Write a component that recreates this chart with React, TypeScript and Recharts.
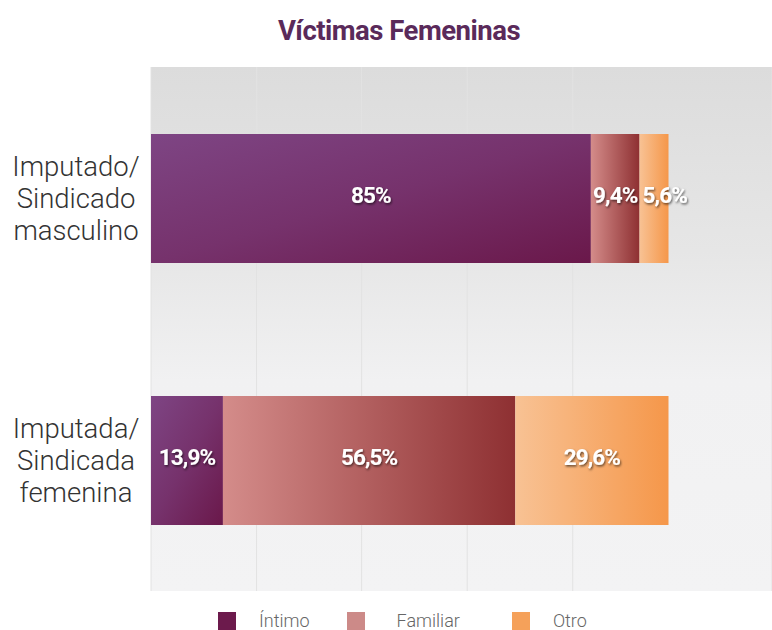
import React from "react";
import {
  Bar,
  BarChart,
  CartesianGrid,
  LabelList,
  Legend,
  XAxis,
  YAxis,
} from "recharts";

const categories = ["Imputado/\nSindicado\nmasculino", "Imputada/\nSindicada\nfemenina"];
const intimo = [85, 13.9];
const familiar = [9.4, 56.5];
const otro = [5.6, 29.6];
const gridTicks = [0, 20.4, 40.7, 61.1, 81.5];

const SERIES = [
  { key: "intimo", name: "Íntimo", fill: "url(#gIntimo)", swatch: "#6c1a4c" },
  { key: "familiar", name: "Familiar", fill: "url(#gFamiliar)", swatch: "#cc8a88" },
  { key: "otro", name: "Otro", fill: "url(#gOtro)", swatch: "#f5a15a" },
];

const data = categories.map((name, i) => ({
  name,
  intimo: intimo[i],
  familiar: familiar[i],
  otro: otro[i],
}));

const FONT = "Roboto, 'Noto Sans', sans-serif";

const fmt = (v: any) => `${String(v).replace(".", ",")}%`;

function CategoryTick(props: any) {
  const { x, y, payload } = props;
  const lines = String(payload.value).split("\n");
  const lh = 32;
  const cx = x - 67;
  return (
    <text
      x={cx}
      y={y}
      textAnchor="middle"
      fill="#333"
      fontFamily={FONT}
      fontWeight={300}
      fontSize={27.5}
    >
      {lines.map((l, i) => (
        <tspan key={i} x={cx} y={y + (i - (lines.length - 1) / 2) * lh} dy="0.35em">
          {l}
        </tspan>
      ))}
    </text>
  );
}

// centred label; narrow segments get a left-anchored label that spills out
function SegLabel(props: any) {
  const { x, y, width, height, value } = props;
  const text = fmt(value);
  const narrow = width < 40;
  return (
    <text
      x={narrow ? x + 3 : x + width / 2}
      y={y + height / 2 - 3}
      dy="0.35em"
      textAnchor={narrow ? "start" : "middle"}
      fill="#fff"
      fontFamily={FONT}
      fontWeight={700}
      fontSize={22.5}
      letterSpacing={-0.9}
      filter="url(#txtShadow)"
    >
      {text}
    </text>
  );
}

function LegendContent() {
  return (
    <div
      style={{
        display: "flex",
        alignItems: "center",
        paddingLeft: 218,
        fontFamily: FONT,
        fontWeight: 300,
        fontSize: 18,
        color: "#666",
      }}
    >
      {SERIES.map((s, i) => (
        <div
          key={s.key}
          style={{ display: "flex", alignItems: "center", marginRight: i === 0 ? 37 : 52 }}
        >
          <span
            style={{ display: "inline-block", width: 18, height: 18, background: s.swatch, marginRight: i === 1 ? 32 : 23 }}
          />
          <span>{s.name}</span>
        </div>
      ))}
    </div>
  );
}

export default function App() {
  return (
    <div style={{ position: "absolute", left: 0, top: 0, width: 772, height: 630, background: "#fff" }}>
      <div
        style={{
          position: "absolute",
          top: 14,
          left: 26,
          width: 746,
          textAlign: "center",
          fontFamily: FONT,
          fontWeight: 700,
          fontSize: 27.5,
          color: "#5a2a5a",
          letterSpacing: -0.5,
        }}
      >
        Víctimas Femeninas
      </div>
      <BarChart
        width={772}
        height={630}
        data={data}
        layout="vertical"
        margin={{ top: 67, right: 0, bottom: 39, left: 0 }}
      >
        <defs>
          <linearGradient id="bgGrad" x1="0" y1="0" x2="0" y2="1">
            <stop offset="0" stopColor="#dcdcdc" />
            <stop offset="0.35" stopColor="#e6e6e6" />
            <stop offset="0.6" stopColor="#f1f1f2" />
            <stop offset="1" stopColor="#f3f3f4" />
          </linearGradient>
          <linearGradient id="gIntimo" x1="0" y1="0" x2="1" y2="1">
            <stop offset="0" stopColor="#7e4584" />
            <stop offset="0.5" stopColor="#76326c" />
            <stop offset="1" stopColor="#6a184a" />
          </linearGradient>
          <linearGradient id="gFamiliar" x1="0" y1="0" x2="1" y2="0">
            <stop offset="0" stopColor="#d48c8a" />
            <stop offset="1" stopColor="#8e3032" />
          </linearGradient>
          <linearGradient id="gOtro" x1="0" y1="0" x2="1" y2="0">
            <stop offset="0" stopColor="#f8c294" />
            <stop offset="1" stopColor="#f5974a" />
          </linearGradient>
          <filter id="txtShadow" x="-20%" y="-20%" width="140%" height="140%">
            <feDropShadow dx="1" dy="1.5" stdDeviation="1" floodColor="#000" floodOpacity="0.6" />
          </filter>
        </defs>
        <CartesianGrid
          horizontal={false}
          stroke="#e2e2e2"
          fill="url(#bgGrad)"
          fillOpacity={1}
        />
        <XAxis type="number" domain={[0, 120]} ticks={gridTicks} hide />
        <YAxis
          type="category"
          dataKey="name"
          width={151}
          axisLine={false}
          tickLine={false}
          tick={<CategoryTick />}
        />
        <Legend
          layout="horizontal"
          verticalAlign="middle"
          content={<LegendContent />}
          wrapperStyle={{ top: 610, left: 0, width: 772 }}
        />
        {SERIES.map((s) => (
          <Bar
            key={s.key}
            dataKey={s.key}
            name={s.name}
            stackId="a"
            fill={s.fill}
            barSize={129}
            isAnimationActive={false}
          >
            <LabelList dataKey={s.key} content={<SegLabel />} />
          </Bar>
        ))}
      </BarChart>
    </div>
  );
}
